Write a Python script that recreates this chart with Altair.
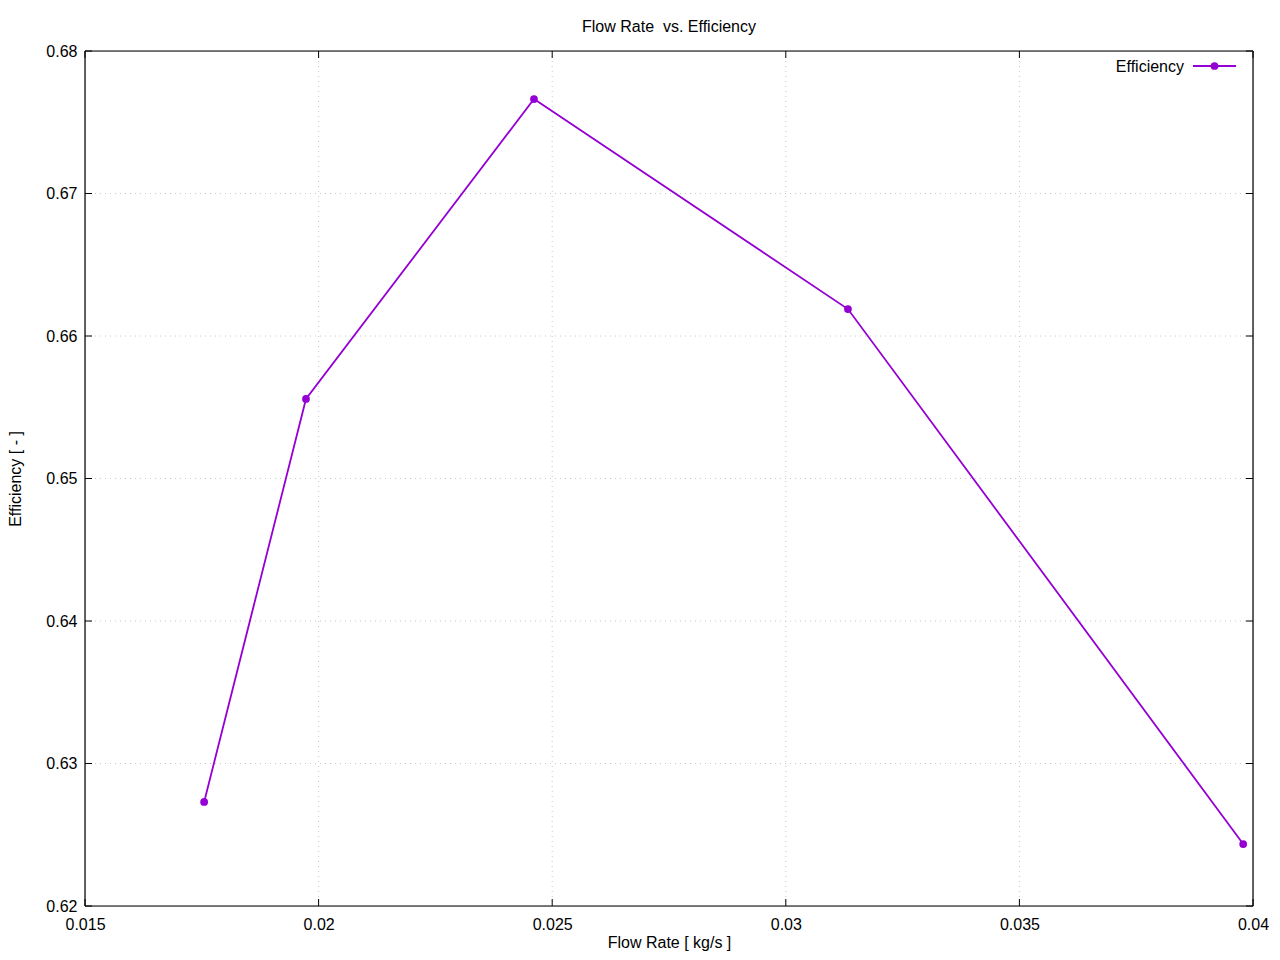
import altair as alt
import pandas as pd

flow_rate = [0.01755, 0.01973, 0.02461, 0.03133, 0.03979]
efficiency = [0.6273, 0.65558, 0.67663, 0.66189, 0.62435]
x_ticks = [0.015, 0.02, 0.025, 0.03, 0.035, 0.04]
y_ticks = [0.62, 0.63, 0.64, 0.65, 0.66, 0.67, 0.68]

W, H = 1168, 855
COLOR = "#9400D3"
FONT = "Liberation Sans"
FS = 16

df = pd.DataFrame({"x": flow_rate, "y": efficiency, "series": "Efficiency"})
xt = pd.DataFrame({"x": x_ticks})
yt = pd.DataFrame({"y": y_ticks})

xs = alt.Scale(domain=[0.015, 0.04], nice=False, zero=False)
ys = alt.Scale(domain=[0.62, 0.68], nice=False, zero=False)

grid_x = alt.Chart(xt).mark_rule(color="#c8c8c8", strokeDash=[1, 4], strokeWidth=1).encode(
    x=alt.X("x:Q", scale=xs,
            axis=alt.Axis(title="Flow Rate [ kg/s ]", values=x_ticks, format="~g", grid=False,
                          ticks=False, domain=False, labelPadding=10, titlePadding=2,
                          labelFlush=False,
                          labelFont=FONT, titleFont=FONT, labelFontSize=FS, titleFontSize=FS,
                          titleFontWeight="normal", labelColor="black", titleColor="black")),
    y=alt.value(0), y2=alt.value(H)).transform_filter("datum.x > 0.0151 && datum.x < 0.0399")
grid_y = alt.Chart(yt).mark_rule(color="#c8c8c8", strokeDash=[1, 4], strokeWidth=1).encode(
    y=alt.Y("y:Q", scale=ys,
            axis=alt.Axis(title="Efficiency [ - ]", values=y_ticks, format=".2f", grid=False,
                          ticks=False, domain=False, labelPadding=8, titlePadding=22,
                          labelFlush=False,
                          labelFont=FONT, titleFont=FONT, labelFontSize=FS, titleFontSize=FS,
                          titleFontWeight="normal", labelColor="black", titleColor="black")),
    x=alt.value(0), x2=alt.value(W)).transform_filter("datum.y > 0.6201 && datum.y < 0.6799")

tick_b = alt.Chart(xt).mark_rule(color="black").encode(
    x=alt.X("x:Q", scale=xs), y=alt.value(H), y2=alt.value(H - 7))
tick_t = alt.Chart(xt).mark_rule(color="black").encode(
    x=alt.X("x:Q", scale=xs), y=alt.value(0), y2=alt.value(7))
tick_l = alt.Chart(yt).mark_rule(color="black").encode(
    y=alt.Y("y:Q", scale=ys), x=alt.value(0), x2=alt.value(7))
tick_r = alt.Chart(yt).mark_rule(color="black").encode(
    y=alt.Y("y:Q", scale=ys), x=alt.value(W), x2=alt.value(W - 7))

border = pd.DataFrame({"b": [0]})
b_top = alt.Chart(border).mark_rule(color="black", strokeWidth=1.2).encode(
    x=alt.value(0), x2=alt.value(W), y=alt.value(0))
b_bot = alt.Chart(border).mark_rule(color="black", strokeWidth=1.2).encode(
    x=alt.value(0), x2=alt.value(W), y=alt.value(H))
b_left = alt.Chart(border).mark_rule(color="black", strokeWidth=1.2).encode(
    y=alt.value(0), y2=alt.value(H), x=alt.value(0))
b_right = alt.Chart(border).mark_rule(color="black", strokeWidth=1.2).encode(
    y=alt.value(0), y2=alt.value(H), x=alt.value(W))

line = alt.Chart(df).mark_line(color=COLOR, strokeWidth=1.8).encode(
    x=alt.X("x:Q", scale=xs), y=alt.Y("y:Q", scale=ys))
pts = alt.Chart(df).mark_circle(color=COLOR, size=60, opacity=1).encode(
    x=alt.X("x:Q", scale=xs), y=alt.Y("y:Q", scale=ys))

leg = pd.DataFrame({"label": ["Efficiency"]})
leg_text = alt.Chart(leg).mark_text(align="right", baseline="middle", font=FONT, fontSize=FS,
                                    color="black").encode(
    text="label:N", x=alt.value(1099), y=alt.value(16))
leg_line = alt.Chart(leg).mark_rule(color=COLOR, strokeWidth=1.8).encode(
    x=alt.value(1108), x2=alt.value(1151), y=alt.value(15))
leg_pt = alt.Chart(leg).mark_circle(color=COLOR, size=60, opacity=1).encode(
    x=alt.value(1129.5), y=alt.value(15))

chart = alt.layer(grid_x, grid_y, tick_b, tick_t, tick_l, tick_r,
                  b_top, b_bot, b_left, b_right, line, pts,
                  leg_text, leg_line, leg_pt).properties(
    width=W, height=H,
    title=alt.TitleParams("Flow Rate \u00a0vs. Efficiency", font=FONT, fontSize=FS,
                          fontWeight="normal", color="black", offset=8),
    autosize=alt.AutoSizeParams(type="none"),
    padding={"left": 77, "top": 43, "right": 19, "bottom": 46},
).configure_view(stroke=None).configure(background="white")

chart.save("out.html", embed_options={"renderer": "svg", "actions": False})
